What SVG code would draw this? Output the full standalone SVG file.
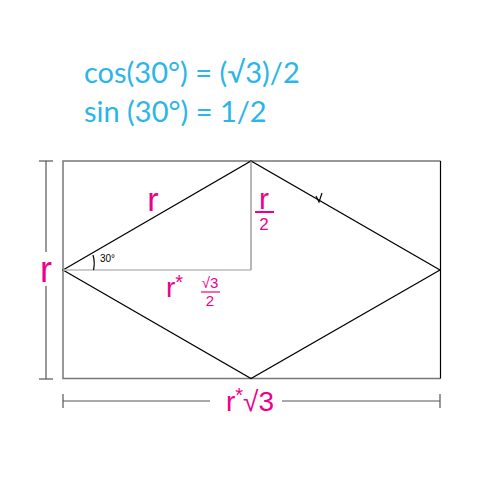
<svg xmlns="http://www.w3.org/2000/svg" width="480" height="480" viewBox="0 0 480 480">
<style>
.eq{font-family:Lato,"Liberation Sans",sans-serif;font-size:29px;fill:#2cb5e8}
.m{font-family:"Liberation Sans",Arial,sans-serif;fill:#ec008c}
.k{stroke:#000;stroke-width:1.2;fill:none}
.g{stroke:#777;stroke-width:1.5;fill:none}
.dim{stroke:#555;stroke-width:1.2;fill:none}
</style>
<rect width="480" height="480" fill="#fff"/>
<g id="equations">
<text class="eq" x="84" y="83">cos(30°) = (√3)/2</text>
<text class="eq" x="84" y="122">sin (30°) = 1/2</text>
</g>
<g id="rectangle">
<polyline class="g" points="440.5,161 63,161 63,378.5 440.5,378.5"/>
<line class="k" x1="440.5" y1="161" x2="440.5" y2="378.5"/>
</g>
<g id="connectors">
<polygon class="k" points="63,270 251,161 440,270 251,378.5"/>
<line x1="63" y1="270" x2="251" y2="270" stroke="#bbb" stroke-width="1.5"/>
<line x1="251" y1="161" x2="251" y2="270" stroke="#888" stroke-width="1.2"/>
<path d="M93,255 A30,30 0 0 1 93.5,270" class="k" stroke-width="0.8"/>
<path d="M316,196 L319,202 L322,193" class="k" stroke-width="0.8"/>
</g>
<g id="dim-left">
<line class="dim" x1="46" y1="161" x2="46" y2="252"/>
<line class="dim" x1="46" y1="286" x2="46" y2="379"/>
<line class="dim" x1="39" y1="161" x2="53" y2="161"/>
<line class="dim" x1="39" y1="379" x2="53" y2="379"/>
<text class="m" x="46" y="282" font-size="36" text-anchor="middle">r</text>
</g>
<g id="dim-bottom">
<line class="dim" x1="63" y1="401" x2="210" y2="401"/>
<line class="dim" x1="282" y1="401" x2="440" y2="401"/>
<line class="dim" x1="63" y1="394" x2="63" y2="408"/>
<line class="dim" x1="440" y1="394" x2="440" y2="408"/>
<text class="m" x="250" y="411" font-size="28" text-anchor="middle">r<tspan dy="-9" font-size="20">*</tspan><tspan dy="9">√3</tspan></text>
</g>
<g id="labels">
<text class="m" x="153" y="211" font-size="34" text-anchor="middle">r</text>
<text x="100" y="262" font-family="'Liberation Sans',Arial,sans-serif" font-size="10" fill="#000">30°</text>
<text class="m" x="264" y="209" font-size="30" text-anchor="middle">r</text>
<line x1="255" y1="212" x2="274" y2="212" stroke="#ec008c" stroke-width="2"/>
<text class="m" x="264" y="230" font-size="17" text-anchor="middle">2</text>
<text class="m" x="166" y="297" font-size="28">r<tspan dy="-8" font-size="20">*</tspan></text>
<text class="m" x="210" y="288" font-size="15" text-anchor="middle">√3</text>
<line x1="201" y1="292" x2="220" y2="292" stroke="#ec008c" stroke-width="1.2"/>
<text class="m" x="210" y="306" font-size="15" text-anchor="middle">2</text>
</g>
</svg>
